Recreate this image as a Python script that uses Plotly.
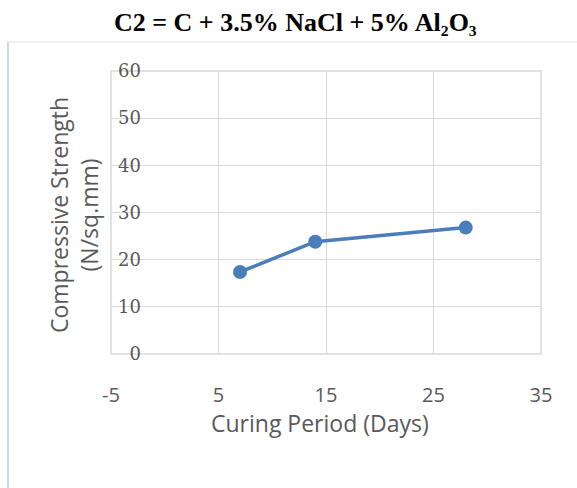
import plotly.graph_objects as go

curing_days = [7, 14, 28]
strength = [17.4, 23.8, 26.8]
x_ticks = [-5, 5, 15, 25, 35]
y_ticks = [0, 10, 20, 30, 40, 50, 60]
title_text = "C2 = C + 3.5% NaCl + 5% Al₂O₃"
x_title = "Curing Period (Days)"
y_title = "Compressive Strength<br>(N/sq.mm)"

W, H = 577, 488
L, R, T, B = 111, 36, 71, 134
pw, ph = W - L - R, H - T - B

def px(x):
    return (x - L) / pw

def py(y):
    return (H - B - y) / ph

fig = go.Figure()
fig.add_trace(go.Scatter(
    x=curing_days, y=strength, mode="lines+markers",
    line=dict(color="#4a7ebb", width=3.5),
    marker=dict(color="#4a7ebb", size=14),
    showlegend=False, hoverinfo="skip",
))

grid = "#d9d9d9"
tick_col = "#595959"

fig.update_layout(
    width=W, height=H,
    margin=dict(l=L, r=R, t=T, b=B),
    paper_bgcolor="white", plot_bgcolor="white",
    xaxis=dict(
        range=[-5, 35], tickvals=x_ticks, ticktext=[str(v) for v in x_ticks],
        showgrid=True, gridcolor=grid, gridwidth=1, zeroline=False,
        showline=False, ticks="", ticklabelstandoff=27,
        tickfont=dict(family="Open Sans", size=20, color=tick_col),
        domain=[0, 1],
    ),
    yaxis=dict(
        range=[0, 60], tickvals=y_ticks, ticktext=[str(v) for v in y_ticks],
        showgrid=True, gridcolor=grid, gridwidth=1, zeroline=False,
        showline=False, ticks="", anchor="free", position=(141 - L) / pw,
        ticklabelstandoff=0,
        tickfont=dict(family="DejaVu Serif", size=18, color=tick_col),
    ),
    annotations=[
        dict(text=title_text, xref="paper", yref="paper", x=px(295), y=py(22),
             showarrow=False, xanchor="center", yanchor="middle",
             font=dict(family="Liberation Serif", size=26, color="black", weight="bold")),
        dict(text=x_title, xref="paper", yref="paper", x=px(320), y=py(423),
             showarrow=False, xanchor="center", yanchor="middle",
             font=dict(family="Open Sans", size=23, color=tick_col)),
        dict(text=y_title, xref="paper", yref="paper", x=px(74), y=py(215),
             showarrow=False, xanchor="center", yanchor="middle", textangle=-90,
             font=dict(family="Open Sans", size=23, color=tick_col)),
    ],
    shapes=[
        dict(type="rect", xref="paper", yref="paper", x0=0, x1=1, y0=0, y1=1,
             line=dict(color=grid, width=1.5), layer="below"),
        dict(type="line", xref="paper", yref="paper", x0=px(8), x1=px(577),
             y0=py(42), y1=py(42), line=dict(color="#eef2f8", width=2)),
        dict(type="line", xref="paper", yref="paper", x0=px(8), x1=px(8),
             y0=py(42), y1=py(488), line=dict(color="#cbd9ec", width=2)),
    ],
)

fig.write_html("out.html")
